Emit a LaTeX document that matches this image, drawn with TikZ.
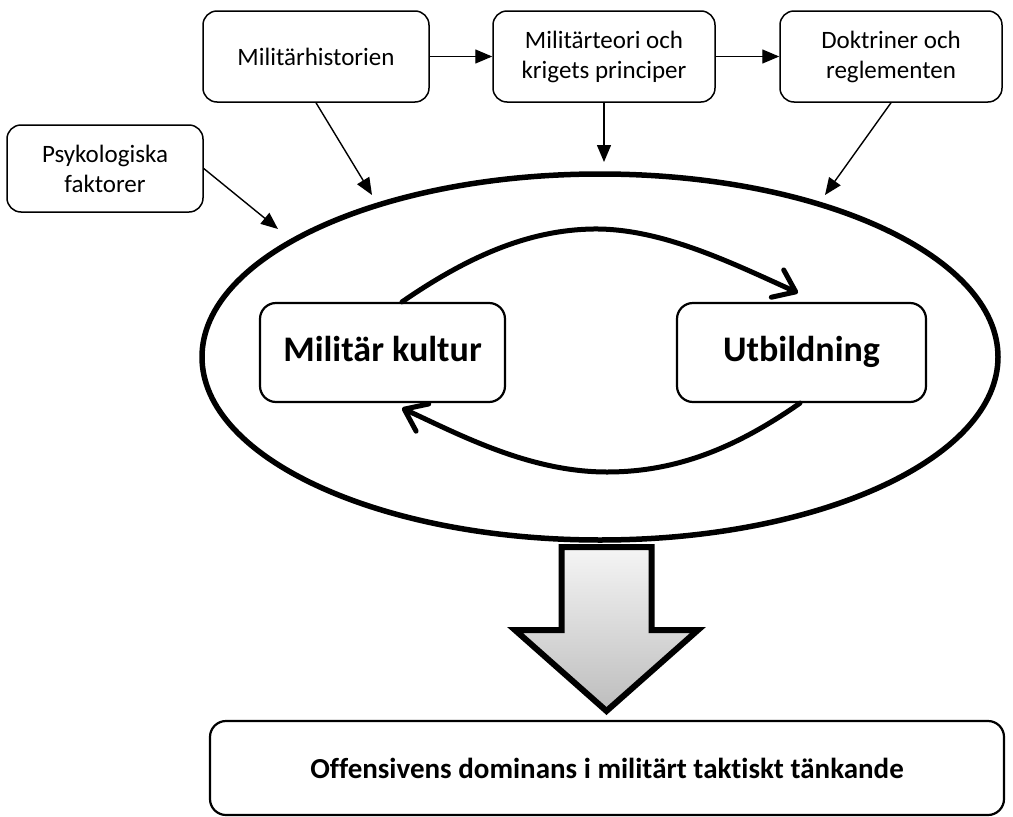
\documentclass[tikz,border=0pt]{standalone}
\usepackage{fontspec}
\setmainfont{Carlito}[Ligatures=NoCommon]
\usetikzlibrary{arrows.meta,shapes.geometric}

\begin{document}
\begin{tikzpicture}[x=1pt,y=-1pt,
  smallbox/.style={draw,line width=1.5pt,rounded corners=14pt,align=center,inner sep=0pt,
    font=\fontsize{25}{30}\selectfont},
  bigbox/.style={draw,line width=2.2pt,rounded corners=16pt,align=center,inner sep=0pt,
    text height=27pt,text depth=9pt,font=\bfseries\fontsize{36}{42}\selectfont},
  thinarrow/.style={line width=1.4pt,-{Triangle[length=17pt,width=14pt]}},
  cyclearrow/.style={line width=5pt,line cap=round,-{Straight Barb[length=20pt,width=30pt,round]}},
  bigarrow/.style={draw,line width=6pt,line join=miter,top color=black!4,bottom color=black!26}
]
\useasboundingbox (0,0) rectangle (1013,817);

% top boxes
\node[smallbox,minimum width=226pt,minimum height=91pt] (hist) at (316,56.5) {Militärhistorien};
\node[smallbox,minimum width=222pt,minimum height=91pt] (teori) at (604,56.5) {Militärteori och\\krigets principer};
\node[smallbox,minimum width=222pt,minimum height=91pt] (dokt) at (891,56.5) {Doktriner och\\reglementen};
\node[smallbox,minimum width=196pt,minimum height=87pt] (psyk) at (105,168.5) {Psykologiska\\faktorer};

% ellipse
\node[draw,ellipse,line width=5.5pt,minimum width=796pt,minimum height=366pt,inner sep=0pt] (ell) at (600,357) {};

% inner boxes
\node[bigbox,minimum width=245pt,minimum height=99pt] (kultur) at (382.5,352.5) {Militär kultur};
\node[bigbox,minimum width=249pt,minimum height=99pt] (utb) at (801.5,352.5) {Utbildning};

% result box
\node[draw,line width=2.2pt,rounded corners=16pt,inner sep=0pt,minimum width=794pt,minimum height=94pt,
  font=\bfseries\fontsize{29}{35}\selectfont] (res) at (607,768) {Offensivens dominans i militärt taktiskt tänkande};

% free ends of input arrows
\coordinate (e1) at (372,195);
\coordinate (e2) at (604,162);
\coordinate (e3) at (825,195);
\coordinate (e4) at (278,229);

\draw[thinarrow] (hist.east) -- (teori.west);
\draw[thinarrow] (teori.east) -- (dokt.west);
\draw[thinarrow] (hist.south) -- (e1);
\draw[thinarrow] (teori.south) -- (e2);
\draw[thinarrow] (dokt.south) -- (e3);
\draw[thinarrow] (psyk.east) -- (e4);

% cycle arrows
\draw[cyclearrow] ([xshift=19.5pt]kultur.north) .. controls (470,255) and (530,230) .. (593,229)
  .. controls (660,228) and (730,262) .. ([xshift=-3.5pt,yshift=9pt]utb.north);
\draw[cyclearrow] ([xshift=-1.5pt]utb.south) .. controls (740,445) and (680,472) .. (607,472)
  .. controls (530,472) and (460,435) .. ([xshift=19.5pt,yshift=-5pt]kultur.south);

% big block arrow
\path[bigarrow] (561.5,547) -- (651.5,547) -- (651.5,630) -- (698,630) -- (606.5,711)
  -- (515,630) -- (561.5,630) -- cycle;
\end{tikzpicture}
\end{document}
